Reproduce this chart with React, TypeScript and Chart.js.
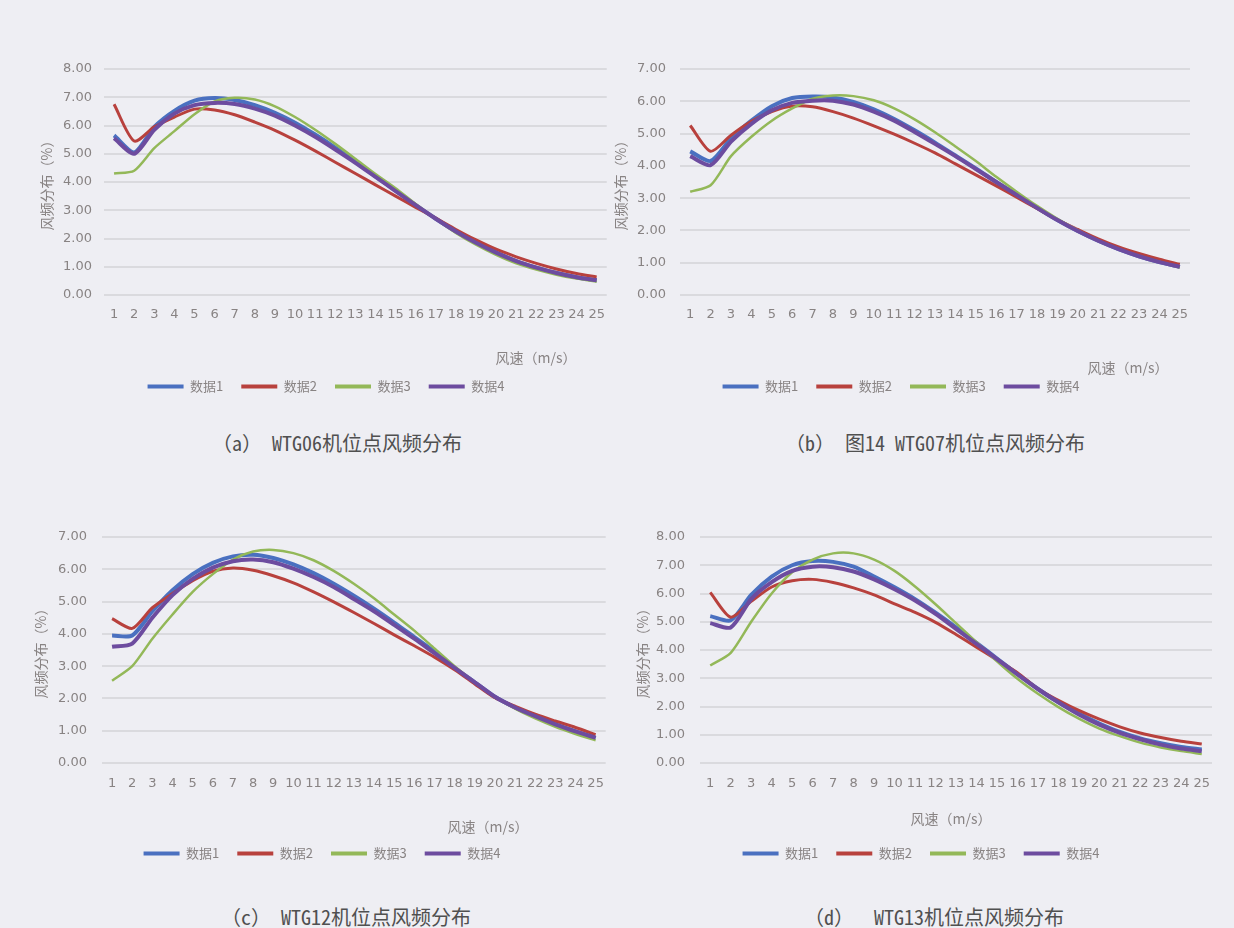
import React, { useEffect, useRef } from "react";
import { Chart, registerables } from "chart.js";

Chart.register(...registerables);

// ---------- data ----------
const windSpeeds = ["1","2","3","4","5","6","7","8","9","10","11","12","13","14","15","16","17","18","19","20","21","22","23","24","25"];
const seriesNames = ["数据1", "数据2", "数据3", "数据4"];

// (a) WTG06
const a_data1 = [5.65,5.05,5.95,6.52,6.88,6.97,6.9,6.72,6.45,6.1,5.68,5.22,4.72,4.2,3.7,3.18,2.7,2.25,1.85,1.5,1.2,0.97,0.78,0.63,0.52];
const a_data2 = [6.75,5.45,5.95,6.3,6.58,6.55,6.38,6.12,5.83,5.48,5.1,4.7,4.3,3.9,3.5,3.1,2.72,2.32,1.95,1.62,1.35,1.12,0.92,0.76,0.64];
const a_data3 = [4.3,4.4,5.2,5.8,6.4,6.85,6.98,6.92,6.68,6.3,5.85,5.35,4.82,4.28,3.78,3.22,2.7,2.2,1.78,1.42,1.12,0.9,0.72,0.58,0.47];
const a_data4 = [5.55,5.0,5.85,6.42,6.72,6.8,6.76,6.6,6.35,6.0,5.6,5.15,4.68,4.18,3.68,3.18,2.7,2.25,1.85,1.5,1.2,0.97,0.78,0.63,0.52];

// (b) WTG07
const b_data1 = [4.45,4.15,4.85,5.4,5.85,6.1,6.15,6.12,5.98,5.75,5.45,5.1,4.72,4.32,3.92,3.5,3.1,2.7,2.32,1.98,1.68,1.42,1.2,1.02,0.87];
const b_data2 = [5.25,4.45,4.95,5.38,5.68,5.85,5.83,5.68,5.48,5.24,4.98,4.7,4.4,4.06,3.72,3.38,3.03,2.68,2.33,2.03,1.74,1.49,1.29,1.11,0.95];
const b_data3 = [3.2,3.4,4.3,4.9,5.4,5.78,6.08,6.18,6.16,6.03,5.78,5.44,5.04,4.6,4.15,3.66,3.2,2.76,2.36,2.0,1.68,1.42,1.2,1.02,0.85];
const b_data4 = [4.3,4.02,4.75,5.3,5.72,5.95,6.02,6.02,5.9,5.68,5.4,5.05,4.68,4.3,3.9,3.5,3.1,2.7,2.32,1.98,1.68,1.42,1.2,1.02,0.87];

// (c) WTG12
const c_data1 = [3.95,3.95,4.7,5.35,5.85,6.2,6.4,6.45,6.35,6.15,5.88,5.55,5.18,4.78,4.35,3.9,3.45,2.95,2.5,2.05,1.72,1.45,1.2,0.98,0.78];
const c_data2 = [4.47,4.17,4.81,5.25,5.65,5.94,6.04,5.97,5.8,5.58,5.3,4.99,4.66,4.32,3.97,3.63,3.28,2.89,2.45,2.02,1.76,1.51,1.3,1.1,0.88];
const c_data3 = [2.55,3.0,3.85,4.6,5.3,5.85,6.3,6.55,6.6,6.5,6.28,5.95,5.55,5.1,4.6,4.1,3.55,3.0,2.5,2.05,1.68,1.38,1.12,0.9,0.7];
const c_data4 = [3.6,3.7,4.5,5.2,5.7,6.05,6.25,6.3,6.22,6.02,5.76,5.45,5.08,4.7,4.28,3.85,3.4,2.95,2.5,2.05,1.72,1.45,1.2,0.98,0.78];

// (d) WTG13
const d_data1 = [5.2,5.05,5.95,6.6,7.0,7.15,7.12,6.95,6.6,6.22,5.8,5.32,4.8,4.25,3.7,3.15,2.62,2.15,1.75,1.4,1.1,0.87,0.7,0.57,0.48];
const d_data2 = [6.04,5.16,5.72,6.23,6.45,6.5,6.39,6.2,5.95,5.63,5.33,4.98,4.55,4.1,3.65,3.2,2.62,2.22,1.86,1.55,1.28,1.06,0.9,0.77,0.67];
const d_data3 = [3.45,3.9,5.0,6.0,6.75,7.2,7.42,7.42,7.2,6.8,6.25,5.62,4.95,4.28,3.6,2.98,2.45,1.98,1.57,1.22,0.95,0.72,0.55,0.42,0.32];
const d_data4 = [4.95,4.8,5.8,6.4,6.8,6.95,6.93,6.78,6.5,6.15,5.75,5.28,4.75,4.22,3.68,3.14,2.62,2.15,1.72,1.36,1.07,0.84,0.65,0.51,0.42];

// ---------- styles ----------
const seriesColors = ["#4a70c0", "#b8413d", "#93b858", "#6d4c9f"];
const seriesWidths = [4, 3, 2.5, 4];
const bgColor = "#eeeef3";
const gridColor = "#dadade";
const textGray = "#888383";

type PanelCfg = {
  series: number[][];
  yMax: number;
  caption: string;
  left: number; top: number; width: number; height: number;
  padLeft: number; padRight: number; padTop: number;
  yAxisW: number; xAxisH: number;
  yTitlePad: number; yTickPad: number; xTickPad: number;
  xTitleX: number; xTitleY: number;
  capX: number; capY: number;
};

const panels: PanelCfg[] = [
  {
    series: [a_data1, a_data2, a_data3, a_data4], yMax: 8,
    caption: "（a） WTG06机位点风频分布",
    left: 0, top: 40, width: 617, height: 363,
    padLeft: 38, padRight: 3, padTop: 29, yAxisW: 66, xAxisH: 67,
    yTitlePad: 0, yTickPad: 12, xTickPad: 12,
    xTitleX: 536, xTitleY: 318, capX: 337, capY: 443,
  },
  {
    series: [b_data1, b_data2, b_data3, b_data4], yMax: 7,
    caption: "（b） 图14 WTG07机位点风频分布",
    left: 610, top: 40, width: 624, height: 363,
    padLeft: 2, padRight: 44, padTop: 29, yAxisW: 68, xAxisH: 67,
    yTitlePad: 0.6, yTickPad: 14, xTickPad: 12,
    xTitleX: 518, xTitleY: 328, capX: 935, capY: 443,
  },
  {
    series: [c_data1, c_data2, c_data3, c_data4], yMax: 7,
    caption: "（c） WTG12机位点风频分布",
    left: 0, top: 500, width: 617, height: 370,
    padLeft: 32, padRight: 5, padTop: 37, yAxisW: 70, xAxisH: 66,
    yTitlePad: 0.6, yTickPad: 15, xTickPad: 13,
    xTitleX: 488, xTitleY: 327, capX: 346, capY: 917,
  },
  {
    series: [d_data1, d_data2, d_data3, d_data4], yMax: 8,
    caption: "（d）  WTG13机位点风频分布",
    left: 617, top: 500, width: 617, height: 370,
    padLeft: 13, padRight: 22, padTop: 37, yAxisW: 70, xAxisH: 66,
    yTitlePad: 4.6, yTickPad: 15, xTickPad: 13,
    xTitleX: 334, xTitleY: 319, capX: 934, capY: 917,
  },
];

const xTitlePlugin = {
  id: "xTitle",
  afterDraw(chart: any, _args: any, opts: any) {
    const ctx = chart.ctx;
    ctx.save();
    ctx.font = '14px "Noto Sans CJK SC"';
    ctx.fillStyle = textGray;
    ctx.textAlign = "center";
    ctx.textBaseline = "middle";
    ctx.fillText(opts.text, opts.x, opts.y);
    ctx.restore();
  },
};

function Panel({ cfg }: { cfg: PanelCfg }) {
  const ref = useRef<HTMLCanvasElement>(null);
  useEffect(() => {
    const canvas = ref.current!;
    const chart = new Chart(canvas, {
      type: "line",
      data: {
        labels: windSpeeds,
        datasets: cfg.series.map((d, i) => ({
          label: seriesNames[i],
          data: d,
          borderColor: seriesColors[i],
          backgroundColor: seriesColors[i],
          borderWidth: seriesWidths[i],
          pointRadius: 0,
          tension: 0.25,
          fill: false,
          order: 4 - i,
        })),
      },
      options: {
        responsive: false,
        animation: false,
        devicePixelRatio: 1,
        layout: { padding: { left: cfg.padLeft, right: cfg.padRight, top: cfg.padTop, bottom: 0 } },
        plugins: {
          legend: {
            position: "bottom",
            labels: {
              boxWidth: 36,
              boxHeight: 4,
              padding: 18,
              color: textGray,
              font: { family: '"Noto Sans CJK SC"', size: 13 },
              sort: (a: any, b: any) => a.datasetIndex - b.datasetIndex,
              generateLabels: (ch: any) =>
                Chart.defaults.plugins.legend.labels.generateLabels(ch).map((l: any) => ({ ...l, lineWidth: 0 })),
            },
          },
          tooltip: { enabled: false },
          title: { display: false },
          // @ts-ignore
          xTitle: { text: "风速（m/s）", x: cfg.xTitleX, y: cfg.xTitleY },
        },
        scales: {
          x: {
            type: "category",
            offset: true,
            grid: { display: false, drawTicks: false },
            border: { display: false },
            ticks: {
              autoSkip: false,
              maxRotation: 0,
              minRotation: 0,
              padding: cfg.xTickPad,
              color: textGray,
              font: { family: '"DejaVu Sans"', size: 13 },
            },
            afterFit: (s: any) => { s.height = cfg.xAxisH; },
          },
          y: {
            min: 0,
            max: cfg.yMax,
            ticks: {
              stepSize: 1,
              padding: cfg.yTickPad,
              color: textGray,
              font: { family: '"DejaVu Sans"', size: 13 },
              callback: (v: any) => Number(v).toFixed(2),
            },
            grid: { color: gridColor, lineWidth: 2, drawTicks: false },
            border: { display: false },
            title: {
              display: true,
              text: "风频分布（%）",
              color: textGray,
              font: { family: '"Noto Sans CJK SC"', size: 14 },
              padding: { top: cfg.yTitlePad, bottom: 0 },
            },
            afterFit: (s: any) => { s.width = cfg.yAxisW; },
          },
        },
      } as any,
      plugins: [xTitlePlugin],
    });
    return () => chart.destroy();
  }, [cfg]);
  return (
    <canvas
      ref={ref}
      width={cfg.width}
      height={cfg.height}
      style={{ position: "absolute", left: cfg.left, top: cfg.top, width: cfg.width, height: cfg.height }}
    />
  );
}

export default function App() {
  return (
    <div style={{ position: "absolute", left: 0, top: 0, width: 1234, height: 928, background: bgColor, overflow: "hidden" }}>
      {panels.map((p, i) => (
        <Panel key={i} cfg={p} />
      ))}
      {panels.map((p, i) => (
        <div
          key={"c" + i}
          style={{
            position: "absolute",
            left: p.capX,
            top: p.capY - 12,
            transform: "translateX(-50%)",
            whiteSpace: "pre",
            fontFamily: '"Noto Sans Mono CJK SC", "DejaVu Sans Mono", "Noto Sans CJK SC", monospace',
            fontSize: 20,
            lineHeight: "24px",
            color: "#505050",
          }}
        >
          {p.caption}
        </div>
      ))}
    </div>
  );
}
